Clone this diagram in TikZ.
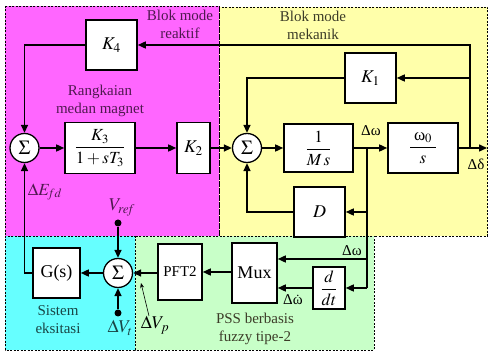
\documentclass[tikz,border=0pt]{standalone}
\usepackage{amsmath}
\usepackage{mathptmx}
\usepackage[no-math]{fontspec}
\setmainfont{Liberation Serif}
\usetikzlibrary{arrows.meta}
\definecolor{mag}{RGB}{255,102,255}
\definecolor{yel}{RGB}{255,255,170}
\definecolor{cya}{RGB}{102,255,255}
\definecolor{grn}{RGB}{200,255,200}
\definecolor{purp}{RGB}{80,25,80}
\definecolor{teal2}{RGB}{25,70,70}
\definecolor{olive2}{RGB}{60,60,40}
\tikzset{
  region/.style={draw=black, line width=0.6pt, dash pattern=on 2pt off 1.5pt},
  blk/.style={draw, line width=1.6pt, fill=white, inner sep=0pt},
  sumc/.style={circle, draw, line width=1.3pt, fill=white, minimum size=29pt, inner sep=0pt, font=\fontsize{20}{20}\selectfont},
  conn/.style={line width=1.5pt, -{Triangle[length=8pt,width=7pt]}},
  wire/.style={line width=1.5pt},
  thinarr/.style={line width=0.6pt, -{Stealth[length=5pt,width=4pt]}},
  dotn/.style={circle, fill=black, minimum size=7pt, inner sep=0pt},
  lbl/.style={align=center, font=\fontsize{15}{18}\selectfont, inner sep=0pt},
  big/.style={font=\fontsize{18}{18}\selectfont},
  med/.style={font=\fontsize{17}{17}\selectfont},
}
\begin{document}
\begin{tikzpicture}[x=1pt,y=-1pt]
\useasboundingbox (0,0) rectangle (488,352);
% regions
\fill[white] (0,0) rectangle (488,352);
\draw[region, fill=yel] (219,7) rectangle (487.5,236);
\draw[region, fill=mag] (5,6) rectangle (219,236);
\draw[region, fill=cya] (5,236) rectangle (135,350);
\draw[region, fill=grn] (135,236) rectangle (374,350);

% region labels
\node[lbl, text=purp] (lreak) at (180,24.5) {Blok mode\\reaktif};
\node[lbl, text=olive2] (lmek) at (313,25) {Blok mode\\mekanik};
\node[lbl, text=purp] (lrang) at (100,101) {Rangkaian\\medan magnet};
\node[lbl, text=teal2] (lsis) at (58,320) {Sistem\\eksitasi};
\node[lbl, text=olive2] (lpss) at (255,329) {PSS berbasis\\fuzzy tipe-2};

% blocks
\node[blk, big, minimum width=51pt, minimum height=50pt] (K4) at (111.5,45) {$K_4$};
\node[sumc] (s1) at (24.5,148) {$\Sigma$};
\node[blk, med, minimum width=70pt, minimum height=51pt] (K3) at (100,148) {$\dfrac{K_3}{1+sT_3}$};
\node[blk, big, minimum width=33pt, minimum height=51pt] (K2) at (193.5,148) {$K_2$};
\node[sumc] (s2) at (247,148) {$\Sigma$};
\node[blk, med, minimum width=69pt, minimum height=48pt] (Ms) at (318.5,148) {$\dfrac{\;1\;}{M\,s}$};
\node[blk, med, minimum width=70pt, minimum height=50pt] (W) at (423,148) {$\dfrac{\;\mbox{ω}_0\;}{s}$};
\node[blk, big, minimum width=51pt, minimum height=50pt] (K1) at (370.5,78) {$K_1$};
\node[blk, big, minimum width=51pt, minimum height=50pt] (D) at (319.5,212) {$D$};
\node[blk, big, minimum width=45pt, minimum height=60pt] (Mux) at (254.5,273) {Mux};
\node[blk, med, minimum width=32pt, minimum height=42pt] (dd) at (329,288) {$\dfrac{d}{dt}$};
\node[blk, font=\fontsize{15}{15}\selectfont, minimum width=44pt, minimum height=56pt] (PFT) at (180,272) {PFT2};
\node[sumc] (s3) at (118,273) {$\Sigma$};
\node[blk, big, minimum width=47pt, minimum height=50pt] (G) at (56.5,273) {G(s)};
\node[dotn] (vr) at (118,223) {};
\node[dotn] (vt) at (118,313) {};

% coordinates
\coordinate (out) at (487,148);
\coordinate (br1) at (470,148);
\coordinate (br2) at (367,148);
\coordinate (mxin) at (367,259);
\coordinate (ddin) at (367,288);
\coordinate (vpt) at (149,316);
\coordinate (vpa) at (141,283);

% connectors
\draw[conn] (s1) -- (K3);
\draw[conn] (K3) -- (K2);
\draw[conn] (K2) -- (s2);
\draw[conn] (s2) -- (Ms);
\draw[conn] (Ms) -- (W);
\draw[conn] (W) -- (out);
\draw[conn] (br1) |- (K4.east);
\draw[conn] (br1 |- K1.east) -- (K1.east);
\draw[conn] (K1.west) -| (s2.north);
\draw[conn] (D.west) -| (s2.south);
\draw[conn] (K4.west) -| (s1.north);
\draw[conn] (G.west) -| (s1.south);
\draw[wire] (br2) -- (ddin);
\draw[conn] (br2 |- D.east) -- (D.east);
\draw[conn] (mxin) -- (Mux.east |- mxin);
\draw[conn] (ddin) -- (dd.east);
\draw[conn] (dd.west) -- (Mux.east |- dd.west);
\draw[conn] (Mux.west |- PFT.east) -- (PFT.east);
\draw[conn] (PFT.west |- s3.east) -- (s3.east);
\draw[conn] (s3) -- (G);
\draw[conn] (vr) -- (s3.north);
\draw[conn] (vt) -- (s3.south);
\draw[thinarr] (vpt) -- (vpa);

% signal labels
\node[lbl] (ldw) at (371,131) {Δω};
\node[lbl] (ldd) at (476,164) {Δδ};
\node[lbl, text=purp, font=\fontsize{17}{17}\selectfont] (lefd) at (45,192) {$\Delta E_{\!fd}$};
\node[lbl, text=purp, font=\fontsize{18}{18}\selectfont] (lvref) at (122,208) {$V_{\mathit{ref}}$};
\node[lbl, text=teal2, font=\fontsize{18}{18}\selectfont] (lvt) at (120,328) {$\Delta V_t$};
\node[lbl, font=\fontsize{18}{18}\selectfont] (lvp) at (155,325) {$\Delta V_p$};
\node[lbl] (ldw2) at (352,251) {Δω};
\node[lbl] (ldwd) at (293,300) {Δ$\dot{\mbox{ω}}$};
\end{tikzpicture}
\end{document}
